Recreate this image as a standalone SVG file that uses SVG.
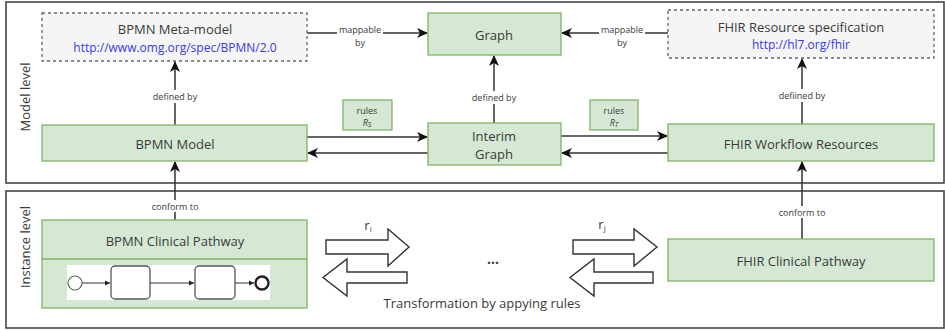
<svg xmlns="http://www.w3.org/2000/svg" width="945" height="330" viewBox="0 0 945 330">
<defs>
<marker id="arr" markerWidth="12" markerHeight="10" refX="10" refY="5" orient="auto" markerUnits="userSpaceOnUse">
<path d="M0,0 L11,5 L0,10 L3,5 z" fill="#111"/>
</marker>
<marker id="arrs" markerWidth="6" markerHeight="6" refX="5" refY="3" orient="auto" markerUnits="userSpaceOnUse">
<path d="M0,0.5 L5,3 L0,5.5 z" fill="#222"/>
</marker>
<style>
text{font-family:"Open Sans","DejaVu Sans",sans-serif;fill:#3a3a3a;text-anchor:middle;dominant-baseline:central}
.panel{fill:none;stroke:#444;stroke-width:1.6}
.g{fill:#d5e8d4;stroke:#82b366;stroke-width:1.3}
.d{fill:#f5f5f5;stroke:#666;stroke-width:1.3;stroke-dasharray:3 3}
.ln{fill:none;stroke:#333;stroke-width:1.5}
.lbl{font-size:9px}
.t{font-size:13px}
.u{font-size:12px;fill:#3838f0}
.blk{fill:#fff;stroke:#333;stroke-width:1.4}
.bg{fill:#fff}
</style>
</defs>

<g id="panels">
<rect class="panel" x="6" y="2" width="938" height="181"/>
<rect class="panel" x="6" y="191" width="938" height="137"/>
<text x="25" y="97" font-size="13" transform="rotate(-90 25 97)">Model level</text>
<text x="25" y="247" font-size="13" transform="rotate(-90 25 247)">Instance level</text>
</g>

<g id="connectors">
<line class="ln" x1="307" y1="33" x2="427" y2="33" marker-end="url(#arr)"/>
<rect class="bg" x="337" y="22" width="46" height="26"/>
<text class="lbl" x="360" y="29">mappable</text>
<text class="lbl" x="360" y="42">by</text>
<line class="ln" x1="668" y1="33" x2="562" y2="33" marker-end="url(#arr)"/>
<rect class="bg" x="599" y="22" width="46" height="26"/>
<text class="lbl" x="622" y="29">mappable</text>
<text class="lbl" x="622" y="42">by</text>
<line class="ln" x1="175" y1="125" x2="175" y2="62" marker-end="url(#arr)"/>
<rect class="bg" x="150" y="90" width="50" height="13"/>
<text class="lbl" x="175" y="96">defined by</text>
<line class="ln" x1="494" y1="123" x2="494" y2="56" marker-end="url(#arr)"/>
<rect class="bg" x="469" y="91" width="50" height="13"/>
<text class="lbl" x="494" y="97">defined by</text>
<line class="ln" x1="802" y1="124" x2="802" y2="59" marker-end="url(#arr)"/>
<rect class="bg" x="775" y="89" width="54" height="13"/>
<text class="lbl" x="802" y="95">defiined by</text>
<line class="ln" x1="307" y1="137" x2="427" y2="137" marker-end="url(#arr)"/>
<line class="ln" x1="428" y1="153" x2="308" y2="153" marker-end="url(#arr)"/>
<line class="ln" x1="561" y1="136" x2="667" y2="136" marker-end="url(#arr)"/>
<line class="ln" x1="668" y1="153" x2="562" y2="153" marker-end="url(#arr)"/>
<line class="ln" x1="175" y1="220" x2="175" y2="162" marker-end="url(#arr)"/>
<rect class="bg" x="148" y="200" width="54" height="12"/>
<text class="lbl" x="175" y="206">conform to</text>
<line class="ln" x1="802" y1="239" x2="802" y2="162" marker-end="url(#arr)"/>
<rect class="bg" x="775" y="206" width="54" height="12"/>
<text class="lbl" x="802" y="212">conform to</text>
</g>

<g id="bpmn-meta">
<rect class="d" x="42" y="13" width="265" height="48"/>
<text class="t" x="175" y="29">BPMN Meta-model</text>
<text class="u" x="175" y="47">http://www.omg.org/spec/BPMN/2.0</text>
</g>

<g id="graph">
<rect class="g" x="428" y="13" width="133" height="42"/>
<text class="t" x="494" y="35">Graph</text>
</g>

<g id="fhir-spec">
<rect class="d" x="668" y="10" width="266" height="48"/>
<text class="t" x="801" y="27">FHIR Resource specification</text>
<text class="u" x="801" y="44">http://hl7.org/fhir</text>
</g>

<g id="bpmn-model">
<rect class="g" x="42" y="125" width="265" height="36"/>
<text class="t" x="175" y="144">BPMN Model</text>
</g>

<g id="rules-s">
<rect class="g" x="343" y="100" width="49" height="30"/>
<text class="lbl" x="367" y="110">rules</text>
<text class="lbl" x="367" y="122" font-style="italic">R<tspan font-size="7" dy="2">S</tspan></text>
</g>

<g id="interim-graph">
<rect class="g" x="428" y="123" width="133" height="42"/>
<text class="t" x="494" y="136">Interim</text>
<text class="t" x="494" y="154">Graph</text>
</g>

<g id="rules-t">
<rect class="g" x="590" y="100" width="48" height="30"/>
<text class="lbl" x="614" y="110">rules</text>
<text class="lbl" x="614" y="122" font-style="italic">R<tspan font-size="7" dy="2">T</tspan></text>
</g>

<g id="fhir-workflow">
<rect class="g" x="668" y="124" width="266" height="37"/>
<text class="t" x="801" y="144">FHIR Workflow Resources</text>
</g>

<g id="bpmn-pathway">
<rect class="g" x="42" y="220" width="265" height="88"/>
<line x1="42" y1="259" x2="307" y2="259" stroke="#82b366" stroke-width="1.3"/>
<text class="t" x="175" y="241">BPMN Clinical Pathway</text>
<rect x="67" y="265" width="203" height="35" fill="#fff"/>
<circle cx="75" cy="283" r="7" fill="#fff" stroke="#666" stroke-width="1.2"/>
<line x1="82" y1="283" x2="110" y2="283" stroke="#333" stroke-width="1" marker-end="url(#arrs)"/>
<rect x="111" y="266" width="39" height="33" rx="4" fill="#fff" stroke="#555" stroke-width="1.3"/>
<line x1="150" y1="283" x2="194" y2="283" stroke="#333" stroke-width="1" marker-end="url(#arrs)"/>
<rect x="195" y="266" width="40" height="33" rx="4" fill="#fff" stroke="#555" stroke-width="1.3"/>
<line x1="235" y1="283" x2="254" y2="283" stroke="#333" stroke-width="1" marker-end="url(#arrs)"/>
<circle cx="262" cy="283" r="6.5" fill="#fff" stroke="#222" stroke-width="2.4"/>
</g>

<g id="transformation">
<polygon class="blk" points="326,240 388,240 388,229 409,247 388,266 388,254 326,254"/>
<polygon class="blk" points="407,272 347,272 347,259 323,277.5 347,296 347,283 407,283"/>
<text x="368" y="225" font-size="13">r<tspan font-size="8" dy="3">i</tspan></text>
<text x="493" y="258" font-size="14" font-weight="bold">...</text>
<polygon class="blk" points="573,240 634,240 634,229 657,247 634,266 634,254 573,254"/>
<polygon class="blk" points="653,272 594,272 594,259 570,277.5 594,296 594,283 653,283"/>
<text x="602" y="224" font-size="13">r<tspan font-size="8" dy="3">j</tspan></text>
<text x="482" y="303" font-size="13">Transformation by appying rules</text>
</g>

<g id="fhir-pathway">
<rect class="g" x="668" y="239" width="266" height="42"/>
<text class="t" x="801" y="261">FHIR Clinical Pathway</text>
</g>
</svg>
